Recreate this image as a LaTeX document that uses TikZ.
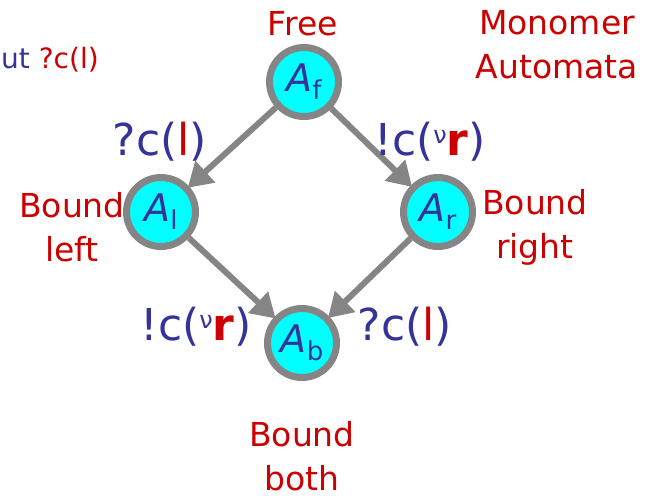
\documentclass[tikz,border=0pt]{standalone}
\usepackage{fontspec}
\setmainfont{DejaVu Sans}
\usetikzlibrary{arrows.meta}
\definecolor{tblue}{HTML}{333399}
\definecolor{tred}{HTML}{CC0000}
\definecolor{ring}{HTML}{858585}
\definecolor{fillc}{HTML}{00FFFF}
\begin{document}
\begin{tikzpicture}[x=1pt,y=-1pt,
  state/.style={circle,draw=ring,line width=7pt,fill=fillc,minimum size=69pt,inner sep=0pt,
    font=\fontsize{38}{38}\selectfont\itshape,text=tblue},
  lab/.style={text=tred,font=\fontsize{33}{44}\selectfont,align=center,inner sep=0pt},
  act/.style={text=tblue,font=\fontsize{44}{44}\selectfont,inner sep=0pt},
  conn/.style={draw=ring,line width=6pt,-{Triangle[length=24pt,width=28pt]},shorten >=-2pt}]
\useasboundingbox (0,0) rectangle (663,499);
\node[state] (af) at (304,82) {A\raisebox{-8pt}{\fontsize{26}{26}\selectfont\upshape f}};
\node[state] (al) at (161,212) {A\raisebox{-8pt}{\fontsize{26}{26}\selectfont\upshape l}};
\node[state] (ar) at (438,212) {A\raisebox{-8pt}{\fontsize{26}{26}\selectfont\upshape r}};
\node[state] (ab) at (302,343) {A\raisebox{-8pt}{\fontsize{26}{26}\selectfont\upshape b}};
\draw[conn] (af) -- (al);
\draw[conn] (af) -- (ar);
\draw[conn] (al) -- (ab);
\draw[conn] (ar) -- (ab);
\node[lab] (free) at (303,24) {Free};
\node[lab] (mono) at (557,45) {Monomer\\Automata};
\node[lab] (bl) at (72,227) {Bound\\left};
\node[lab] (br) at (535,227) {Bound\\right};
\node[lab] (bb) at (302,456) {Bound\\both};
\node[act] (a1) at (160,142) {?c(\textcolor{tred}{l})};
\node[act] (a2) at (430,142) {!c(\raisebox{12pt}{\fontsize{24}{24}\selectfont ν}\textcolor{tred}{\textbf{r}})};
\node[act] (a3) at (196,327) {!c(\raisebox{12pt}{\fontsize{24}{24}\selectfont ν}\textcolor{tred}{\textbf{r}})};
\node[act] (a4) at (405,327) {?c(\textcolor{tred}{l})};
\node[anchor=west,inner sep=0pt,font=\fontsize{28}{28}\selectfont] (cut) at (1,60) {\textcolor{tblue}{ut} \textcolor{tred}{?c(l)}};
\end{tikzpicture}
\end{document}
